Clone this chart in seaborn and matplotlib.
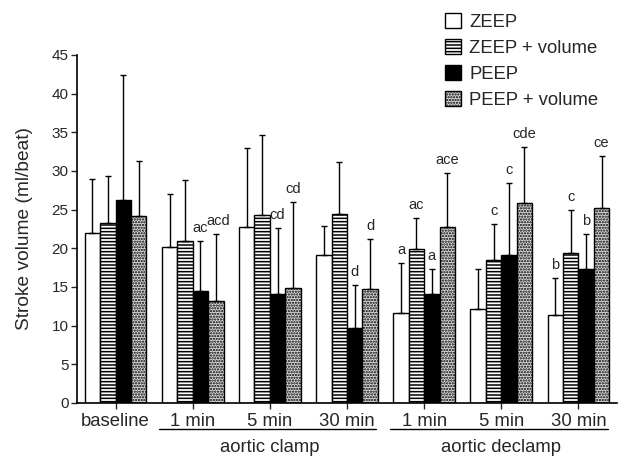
import numpy as np
import pandas as pd
import matplotlib
matplotlib.use("Agg")
import matplotlib.pyplot as plt
import matplotlib.transforms as mtransforms
import seaborn as sns

# ---- data ----
time_keys = ["baseline", "clamp 1", "clamp 5", "clamp 30", "declamp 1", "declamp 5", "declamp 30"]
tick_labels = ["baseline", "1 min", "5 min", "30 min", "1 min", "5 min", "30 min"]
conditions = ["ZEEP", "ZEEP + volume", "PEEP", "PEEP + volume"]

zeep_mean = [22.0, 20.2, 22.8, 19.1, 11.6, 12.2, 11.4]
zeep_sd = [7.0, 6.8, 10.2, 3.8, 6.5, 5.1, 4.8]
zeepv_mean = [23.3, 20.9, 24.3, 24.4, 19.9, 18.5, 19.4]
zeepv_sd = [6.1, 7.9, 10.3, 6.7, 4.0, 4.6, 5.5]
peep_mean = [26.2, 14.5, 14.1, 9.7, 14.1, 19.1, 17.3]
peep_sd = [16.2, 6.5, 8.5, 5.5, 3.2, 9.4, 4.55]
peepv_mean = [24.2, 13.2, 14.9, 14.8, 22.7, 25.8, 25.2]
peepv_sd = [7.1, 8.65, 11.1, 6.4, 7.0, 7.3, 6.8]

zeep_sig = ["", "", "", "", "a", "", "b"]
zeepv_sig = ["", "", "", "", "ac", "c", "c"]
peep_sig = ["", "ac", "cd", "d", "a", "c", "b"]
peepv_sig = ["", "acd", "cd", "d", "ace", "cde", "ce"]

phase_labels = ["aortic clamp", "aortic declamp"]
phase_groups = [[1, 2, 3], [4, 5, 6]]

means = [zeep_mean, zeepv_mean, peep_mean, peepv_mean]
sds = [zeep_sd, zeepv_sd, peep_sd, peepv_sd]
sigs = [zeep_sig, zeepv_sig, peep_sig, peepv_sig]

rows = []
for c, m in zip(conditions, means):
    for t, v in zip(time_keys, m):
        rows.append({"time": t, "condition": c, "sv": v})
df = pd.DataFrame(rows)

# ---- style ----
sns.set_theme(style="ticks")
plt.rcParams["font.family"] = ["Liberation Sans", "DejaVu Sans"]
plt.rcParams["hatch.linewidth"] = 1.1
plt.rcParams["hatch.color"] = "black"

fig = plt.figure(figsize=(6.22, 4.58), dpi=100)
ax = fig.add_axes([77 / 622, 1 - 403 / 458, 540 / 622, 348 / 458])

sns.barplot(data=df, x="time", y="sv", hue="condition", order=time_keys,
            hue_order=conditions, errorbar=None, width=0.8, legend=False, ax=ax)

styles = [
    dict(facecolor="white", hatch=None),
    dict(facecolor="white", hatch="-----"),
    dict(facecolor="black", hatch=None),
    dict(facecolor="#d9d9d9", hatch="......"),
]

for cont, st, sd, sg in zip(ax.containers, styles, sds, sigs):
    for bar in cont.patches:
        bar.set_facecolor(st["facecolor"])
        bar.set_edgecolor("black")
        bar.set_linewidth(1.0)
        if st["hatch"]:
            bar.set_hatch(st["hatch"])
    xs = [b.get_x() + b.get_width() / 2 for b in cont.patches]
    hs = [b.get_height() for b in cont.patches]
    ax.errorbar(xs, hs, yerr=[np.zeros(len(sd)), sd], fmt="none", ecolor="black",
                elinewidth=1.0, capsize=2.3, capthick=1.0, zorder=1)
    for x, h, s, lab in zip(xs, hs, sd, sg):
        if lab:
            dx = 2.0 if lab == "acd" else 0
            ax.annotate(lab, xy=(x, h + s), xytext=(dx, 6.5), textcoords="offset points",
                        ha="center", va="baseline", fontsize=10.5)

# legend
ax.legend(ax.containers, conditions, loc="upper left",
          bbox_to_anchor=(445 / 622, 1 - 13 / 458), bbox_transform=fig.transFigure,
          frameon=False, fontsize=13.3, labelspacing=0.45, handlelength=0.85,
          handleheight=0.85, handletextpad=0.45, borderpad=0, borderaxespad=0)

ax.set_ylim(0, 45)
ax.set_xlim(-0.5, 6.5)
ax.set_yticks(np.arange(0, 46, 5))
ax.set_xticks(range(len(time_keys)))
ax.set_xticklabels(tick_labels, fontsize=13.3)
ax.tick_params(axis="y", labelsize=11, length=4, width=1.0, pad=2, direction="out")
ax.tick_params(axis="x", length=4, width=1.0, pad=3, direction="out")
ax.set_xlabel("")
ax.set_ylabel("Stroke volume (ml/beat)", fontsize=13.8)
ax.yaxis.set_label_coords(-0.082, 0.5)
sns.despine(ax=ax)
for s in ["left", "bottom"]:
    ax.spines[s].set_linewidth(1.2)
    ax.spines[s].set_color("black")

# phase underline and labels
trans = mtransforms.blended_transform_factory(ax.transData, ax.transAxes)
line_y = -(429 - 403) / 348
label_y = -(448 - 403) / 348
for lab, grp in zip(phase_labels, phase_groups):
    ax.plot([grp[0] - 0.44, grp[-1] + 0.38], [line_y, line_y], transform=trans,
            color="black", lw=1.0, clip_on=False)
    ax.text(np.mean(grp), label_y, lab, transform=trans, ha="center", va="center",
            fontsize=13.3)

fig.savefig("out.png", dpi=100)
